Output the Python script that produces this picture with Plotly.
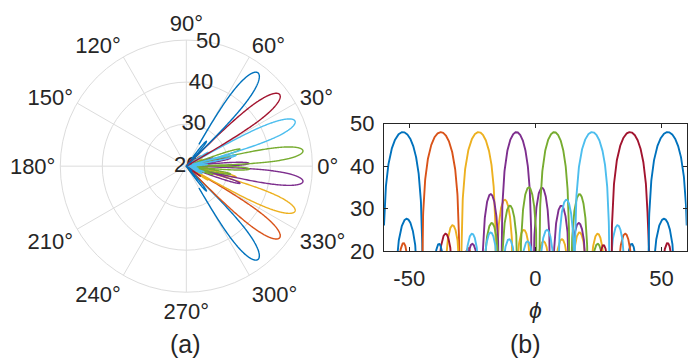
import numpy as np
import plotly.graph_objects as go

# ---------------------------------------------------------------------------
# Beam data: steering direction (deg), peak gain (dB) and main-lobe half width
# ---------------------------------------------------------------------------
beam_dir = [-52.5, -37.5, -22.5, -7.5, 7.5, 22.5, 37.5, 52.5]
beam_peak = [48.0, 48.0, 48.0, 48.0, 48.0, 48.0, 48.0, 48.0]
beam_halfwidth = [7.9, 7.5, 7.0, 6.1, 6.1, 7.0, 7.5, 7.9]

# Side lobes of each beam: centre (deg), level (dB), half width (deg)
sl1_pos, sl1_db, sl1_w = [51.0, 38.2], [27.6, 21.7], [5.0, 3.0]
sl2_pos, sl2_db, sl2_w = [-52.3, -26.6, 35.6], [21.9, 20.7, 24.1], [3.0, 3.0, 3.6]
sl3_pos = [-32.8, -12.1, -4.6, 3.2, 10.5, 17.5, 24.7]
sl3_db = [26.1, 32.1, 25.0, 22.3, 22.8, 24.4, 24.1]
sl3_w = [3.6, 3.6, 3.6, 3.6, 3.6, 3.6, 3.6]
sl4_pos = [-25.0, -17.7, 2.6, 10.3, 17.2]
sl4_db = [21.7, 33.4, 34.9, 30.7, 26.6]
sl4_w = [3.6, 3.6, 3.6, 3.6, 3.6]
sl5_pos = [-17.3, -10.1, -2.6, 17.5, 24.7]
sl5_db = [26.6, 30.7, 35.0, 33.4, 21.7]
sl5_w = [3.6, 3.6, 3.6, 3.6, 3.6]
sl6_pos = [-25.1, -17.7, -10.4, -3.1, 4.6, 12.3, 32.6]
sl6_db = [24.1, 24.4, 22.8, 22.3, 25.0, 32.1, 26.1]
sl6_w = [3.6, 3.6, 3.6, 3.6, 3.6, 3.6, 3.6]
sl7_pos, sl7_db, sl7_w = [-35.6, 27.0, 52.4], [24.1, 21.4, 21.9], [3.6, 3.0, 3.0]
sl8_pos, sl8_db, sl8_w = [-51.0, -38.2], [27.6, 21.7], [5.0, 3.0]

side_lobes = [
    (sl1_pos, sl1_db, sl1_w), (sl2_pos, sl2_db, sl2_w),
    (sl3_pos, sl3_db, sl3_w), (sl4_pos, sl4_db, sl4_w),
    (sl5_pos, sl5_db, sl5_w), (sl6_pos, sl6_db, sl6_w),
    (sl7_pos, sl7_db, sl7_w), (sl8_pos, sl8_db, sl8_w),
]

colors = ["#0072BD", "#D95319", "#EDB120", "#7E2F8E",
          "#77AC30", "#4DBEEE", "#A2142F", "#0072BD"]

x_ticks = [-50, 0, 50]
x_ticktext = ["-50", "0", "50"]
y_ticks = [20, 30, 40, 50]
r_ticks = [20, 30, 40, 50]
r_label_angle = 80
theta_ticks = [0, 30, 60, 90, 120, 150, 180, 210, 240, 270, 300, 330]

phi = np.arange(-60.0, 60.0001, 0.05)


def lobe_curve(centres, levels, widths):
    """Pattern in dB built from lobes with nulls at centre +/- width."""
    g = np.full_like(phi, -40.0)
    for c, p, w in zip(centres, levels, widths):
        s = (phi - c) / w
        inside = np.abs(s) < 1.0
        amp = np.cos(0.5 * np.pi * s[inside])
        val = p + 20.0 * np.log10(np.maximum(amp, 1e-6))
        g[inside] = np.maximum(g[inside], val)
    return g


fig = go.Figure()
text_col = "#262626"
font_family = "Liberation Sans, Arial, Helvetica, sans-serif"

# radial tick labels sit on the 80 degree spoke, underneath the patterns
fig.add_trace(go.Scatterpolar(
    r=r_ticks, theta=[r_label_angle] * len(r_ticks), mode="text",
    text=[str(v) for v in r_ticks], textposition="middle center",
    textfont=dict(size=22, color=text_col, family=font_family),
    cliponaxis=False, showlegend=False, hoverinfo="skip"))

for k in range(len(beam_dir)):
    pos, lev, wid = side_lobes[k]
    gain = lobe_curve([beam_dir[k]] + pos, [beam_peak[k]] + lev,
                      [beam_halfwidth[k]] + wid)
    fig.add_trace(go.Scatterpolar(
        r=np.maximum(gain, 20.0), theta=phi, mode="lines",
        line=dict(color=colors[k], width=1.4), showlegend=False))
    fig.add_trace(go.Scatter(
        x=phi, y=gain, mode="lines", xaxis="x", yaxis="y",
        line=dict(color=colors[k], width=1.9), showlegend=False))

grid_col = "#dcdcdc"
fig.update_layout(
    width=694, height=358,
    margin=dict(l=0, r=0, t=0, b=0),
    paper_bgcolor="white", plot_bgcolor="white",
    font=dict(family=font_family, size=22, color=text_col),
    polar=dict(
        domain=dict(x=[0.0732, 0.4638], y=[0.1586, 0.9156]),
        bgcolor="white",
        radialaxis=dict(
            range=[20, 50], tickmode="array", tickvals=r_ticks,
            showticklabels=False, showline=False, ticks="",
            gridcolor=grid_col, layer="below traces",
        ),
        angularaxis=dict(
            tickmode="array", tickvals=theta_ticks,
            ticktext=[f"{t}°" for t in theta_ticks],
            direction="counterclockwise", rotation=0,
            gridcolor=grid_col, linecolor=grid_col, showline=True,
            ticks="", tickfont=dict(size=22, color=text_col),
            layer="below traces",
        ),
    ),
    xaxis=dict(
        domain=[0.5533, 0.9895], range=[-60, 60],
        tickmode="array", tickvals=x_ticks, ticktext=x_ticktext,
        ticks="inside", ticklen=4, tickcolor=text_col,
        showline=True, linecolor=text_col, linewidth=1, mirror="ticks",
        showgrid=False, zeroline=False, ticklabelstandoff=8,
        tickfont=dict(size=22, color=text_col),
        title=dict(text="<i>ϕ</i>", font=dict(size=23, color=text_col),
                   standoff=11),
    ),
    yaxis=dict(
        domain=[0.2821, 0.6648], range=[20, 50],
        tickmode="array", tickvals=y_ticks,
        ticks="inside", ticklen=4, tickcolor=text_col,
        showline=True, linecolor=text_col, linewidth=1, mirror="ticks",
        showgrid=False, zeroline=False, ticklabelstandoff=4,
        tickfont=dict(size=22, color=text_col),
    ),
    annotations=[
        dict(text="(a)", x=0.268, y=0.002, xref="paper", yref="paper",
             xanchor="center", yanchor="middle", showarrow=False,
             font=dict(size=25, color=text_col)),
        dict(text="(b)", x=0.7565, y=0.004, xref="paper", yref="paper",
             xanchor="center", yanchor="middle", showarrow=False,
             font=dict(size=25, color=text_col)),
    ],
)

fig.write_html("out.html")
